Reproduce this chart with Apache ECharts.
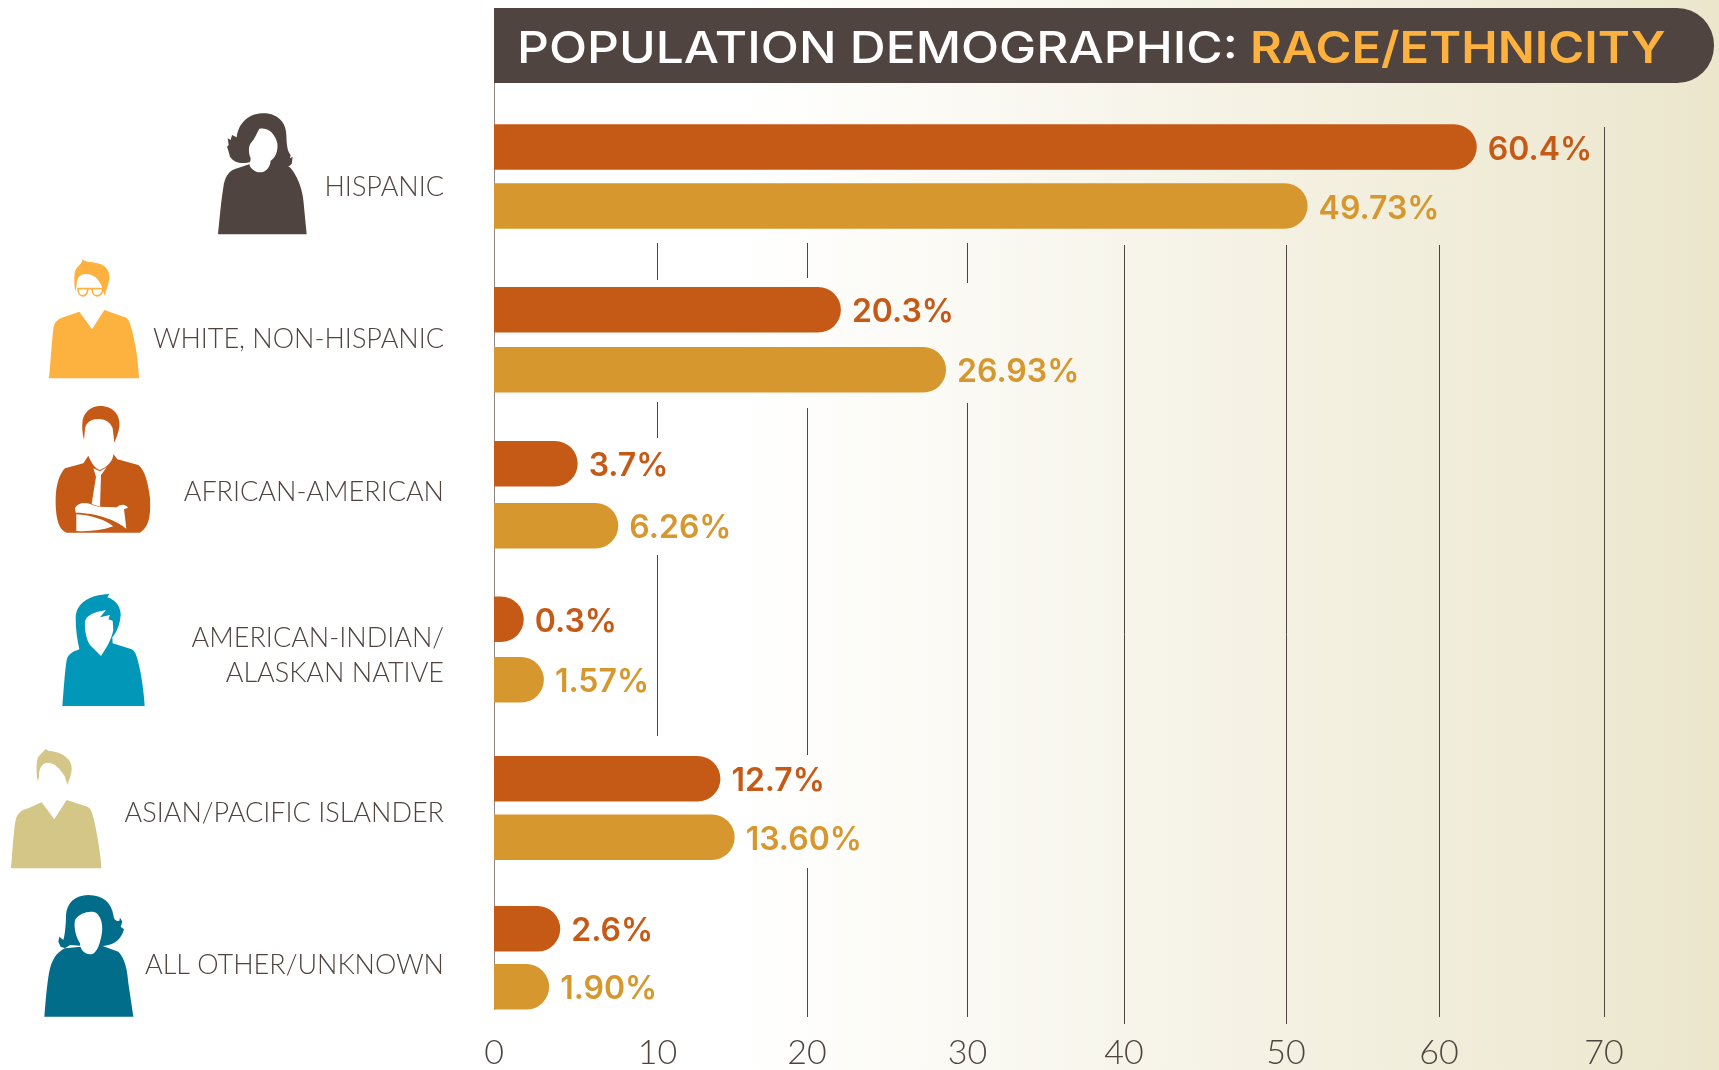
<!DOCTYPE html>
<html><head><meta charset="utf-8">
<style>html,body{margin:0;padding:0;background:#fff}#c{width:1719px;height:1070px}</style>
<script src="https://cdn.jsdelivr.net/npm/echarts@6/dist/echarts.min.js"></script>
</head><body><div id="c"></div>
<script>
// ---- data ----
const titleMain = 'POPULATION DEMOGRAPHIC:';
const titleAccent = 'RACE/ETHNICITY';
const categories = ['HISPANIC','WHITE, NON-HISPANIC','AFRICAN-AMERICAN','AMERICAN-INDIAN/\nALASKAN NATIVE','ASIAN/PACIFIC ISLANDER','ALL OTHER/UNKNOWN'];
const topValues = [60.4,20.3,3.7,0.3,12.7,2.6];
const bottomValues = [49.73,26.93,6.26,1.57,13.60,1.90];
const topLabels = ['60.4%','20.3%','3.7%','0.3%','12.7%','2.6%'];
const bottomLabels = ['49.73%','26.93%','6.26%','1.57%','13.60%','1.90%'];
const tickLabels = ['0','10','20','30','40','50','60','70'];
// where the reference put each tick, in axis units
const tickPositions = [0,10.31,19.74,29.86,39.73,49.95,59.6,70];

// ---- layout & style (pixels) ----
const X0=494, X70=1604, GRID_TOP=98.3, GRID_H=938.4;
const CAP=25, BAR_H=45.5;
const BAR_OFFSET=[29.5,30,31,30.25,29.25,29];
const ROW_NUDGE=[0,7.1,5.7,4.3,6.4,0];
const LABEL_NUDGE=[11,7,3,10.5,12,7];
const ORANGE='#c55a17', GOLD='#d6982e', INK='#4f4440', ACCENT='#fdb13f';
const UI='Inter', LIGHT='Lato';
const segments=[
 [[83,1010]],
 [[243,280],[402,438],[555,736]],
 [[243,278],[408,755],[868,1017]],
 [[243,283],[403,1017]],
 [[245,1024]],
 [[245,1024]],
 [[245,1017]],
 [[127,1017]]
];

function barItem(sign, labels, colour){
  return function(params, api){
    const i=api.value(1);
    const p=api.coord([api.value(0),i]);
    const x0=api.coord([0,i])[0];
    const cy=p[1]+ROW_NUDGE[i]+sign*BAR_OFFSET[i];
    const end=p[0]+CAP;
    return {type:'group',children:[
      {type:'rect',shape:{x:x0,y:cy-BAR_H/2,width:end-x0,height:BAR_H,r:[0,BAR_H/2,BAR_H/2,0]},style:{fill:colour}},
      {type:'text',style:{x:end+11,y:cy+3,text:labels[i],fill:colour,font:'600 32px '+UI,textAlign:'left',textVerticalAlign:'middle'}}
    ]};
  };
}
function gridItem(params, api){
  const i=params.dataIndex;
  const x=Math.round(api.coord([api.value(0),0])[0])+0.5;
  return {type:'group',children:segments[i].map(s=>({type:'line',shape:{x1:x,y1:s[0],x2:x,y2:s[1]},style:{stroke:i===0?'#8f8784':INK,lineWidth:1}}))};
}
let iconCount=0;
function shapeOf(d){const name='personIcon'+(iconCount++);echarts.graphic.registerShape(name,echarts.graphic.extendPath(d));return name;}
function icon(d,ox,oy,fill){return {type:shapeOf(d),x:ox,y:oy,scaleX:1/3,scaleY:1/3,silent:true,z:5,style:{fill}};}
function lineIcon(d,ox,oy,stroke){return {type:shapeOf(d),x:ox,y:oy,scaleX:1/3,scaleY:1/3,silent:true,z:6,style:{fill:'none',stroke,lineWidth:5}};}
const graphics=[
 {type:'rect',z:-10,silent:true,shape:{x:740,y:0,width:979,height:1070},style:{fill:new echarts.graphic.LinearGradient(0,0,1,0,[{offset:0,color:'#ffffff'},{offset:1,color:'#ebe6cc'}])}},
 {type:'rect',z:-5,silent:true,shape:{x:494,y:8,width:1220,height:75,r:[0,37,37,0]},style:{fill:INK}},
 {type:'text',z:10,silent:true,x:517,y:50,scaleX:1.13,style:{text:titleMain,fill:'#fff',font:'500 44px '+UI,textAlign:'left',textVerticalAlign:'middle'}},
 {type:'text',z:10,silent:true,x:1250,y:50,scaleX:1.11,style:{text:titleAccent,fill:ACCENT,font:'600 44px '+UI,textAlign:'left',textVerticalAlign:'middle'}},
 // Hispanic
 icon('M114,433 C120,370 125,320 132,280 C138,255 150,242 165,237 L210,222 L272,222 L330,232 C350,255 365,290 370,330 L380,433 Z',180,90,INK),
 icon('M245,70 C285,68 318,90 319,135 C320,165 322,185 332,195 L330,205 L338,200 L335,222 L320,235 L270,240 L215,215 C190,222 165,222 150,200 L146,185 L141,170 L146,165 L143,145 L152,150 L156,135 L170,142 C175,100 205,72 245,70 Z',180,90,INK),
 icon('M238,116 C265,112 285,130 292,160 C295,185 285,205 272,212 C270,235 255,247 240,247 C225,247 210,235 208,222 C212,215 212,205 212,205 C205,190 205,170 212,160 C225,145 230,130 238,116 Z',180,90,'#fff'),
 // White
 icon('M57,385 C62,330 65,280 70,235 C73,215 85,208 100,202 L148,185 L186,238 L223,180 L285,202 C295,206 298,215 302,228 C315,270 325,330 327,385 Z',30,250,ACCENT),
 icon('M158,28 C162,35 175,35 195,38 C225,42 240,60 238,85 C236,105 228,120 224,138 L215,108 C205,85 190,72 165,72 C150,72 140,85 140,105 L136,125 C133,110 132,80 134,68 C138,50 155,45 158,28 Z',30,250,ACCENT),
 lineIcon('M142,116 L220,116 M144,116 C144,145 172,145 174,116 M186,116 C186,145 216,145 219,116',30,250,ACCENT),
 // African-American
 icon('M210,468 C250,468 272,495 268,530 C265,550 258,565 253,578 L248,535 C240,515 225,507 205,507 C185,507 170,515 165,535 L162,570 C157,550 155,530 158,510 C163,485 185,468 210,468 Z',30,250,ORANGE),
 icon('M175,617 C185,640 195,655 210,660 C235,650 250,630 250,612 L262,628 L325,645 C345,660 355,700 360,745 C362,790 360,830 330,848 L110,848 C85,840 76,800 77,745 C78,700 90,670 105,655 L160,640 Z',30,250,ORANGE),
 icon('M190,655 L210,664 L230,652 L213,675 L210,770 L185,762 L198,680 Z',30,250,'#fff'),
 icon('M135,775 C145,755 170,757 188,765 L205,770 L260,772 C275,758 290,765 294,773 L282,778 L289,836 C265,815 205,788 137,788 Z',30,250,'#fff'),
 icon('M139,793 C185,795 225,810 250,829 C215,842 175,845 139,843 Z',30,250,'#fff'),
 // American-Indian
 icon('M187,378 C192,320 195,270 200,240 C205,222 218,215 238,208 C232,180 227,150 227,115 C228,70 265,45 328,42 L322,52 C350,60 362,85 362,105 C360,130 352,155 337,172 L338,190 L395,208 C408,215 412,235 418,260 C425,290 432,340 434,378 Z',0,580,'#0097b9'),
 icon('M255,125 C260,105 280,97 318,90 L300,112 L330,105 L325,118 L338,122 L340,150 C335,175 325,195 303,228 L270,195 C260,180 253,150 255,125 Z',0,580,'#fff'),
 // Asian
 icon('M33,865 C38,810 40,760 46,725 C50,700 65,690 85,685 L125,667 L163,718 L200,660 L262,680 C272,685 278,700 282,720 C292,765 302,820 304,865 Z',0,580,'#d3c686'),
 icon('M137,507 L145,512 C185,515 215,535 215,565 C215,585 207,600 202,615 L195,590 C180,565 165,550 145,548 C125,548 117,565 117,590 L114,605 C108,580 108,545 115,530 Z',0,580,'#d3c686'),
 // Other
 icon('M43,410 C48,350 52,300 60,265 C70,230 85,215 105,205 L210,195 L265,215 C285,235 292,270 295,310 L310,410 Z',30,880,'#016d8b'),
 icon('M175,45 C220,45 245,70 250,105 C252,120 258,125 268,122 L270,113 L277,125 L272,140 L282,148 C275,175 255,195 225,197 L190,200 L120,195 L105,205 L92,200 L85,185 L88,170 L100,180 C105,165 108,130 108,105 C110,70 135,45 175,45 Z',30,880,'#016d8b'),
 icon('M135,120 C150,97 185,90 200,100 C218,115 222,150 210,185 C205,205 195,223 180,223 C165,223 150,210 150,190 C140,175 130,145 135,120 Z',30,880,'#fff')
];
const rich={t:{fontFamily:LIGHT,fontWeight:300,fontSize:27,lineHeight:35,color:INK,align:'right'}};
LABEL_NUDGE.forEach((n,i)=>{rich['g'+i]={fontSize:1,lineHeight:n*2};});
const chart=echarts.init(document.getElementById('c'),null,{renderer:'canvas'});
chart.setOption({
  animation:false,
  backgroundColor:'transparent',
  grid:{left:X0,top:GRID_TOP,width:X70-X0,height:GRID_H,containLabel:false},
  xAxis:{type:'value',min:0,max:70,position:'bottom',
    axisLine:{show:false},axisTick:{show:false},splitLine:{show:false},
    axisLabel:{show:true,customValues:tickPositions,margin:0,color:INK,fontFamily:LIGHT,fontWeight:300,fontSize:34,
      formatter:v=>tickLabels[tickPositions.indexOf(v)]}},
  yAxis:{type:'category',inverse:true,data:categories,
    axisLine:{show:false},axisTick:{show:false},
    axisLabel:{margin:50,align:'right',
      formatter:(v,i)=>'{g'+i+'| }\n'+v.split('\n').map(t=>'{t|'+t+'}').join('\n'),rich}},
  graphic:graphics,
  series:[
    {type:'custom',name:'gridlines',z:1,silent:true,renderItem:gridItem,encode:{x:0},data:tickPositions.map(v=>[v])},
    {type:'custom',name:'top',z:3,silent:true,renderItem:barItem(-1,topLabels,ORANGE),encode:{x:0,y:1},data:topValues.map((v,i)=>[v,i])},
    {type:'custom',name:'bottom',z:3,silent:true,renderItem:barItem(1,bottomLabels,GOLD),encode:{x:0,y:1},data:bottomValues.map((v,i)=>[v,i])}
  ]
});
</script></body></html>
